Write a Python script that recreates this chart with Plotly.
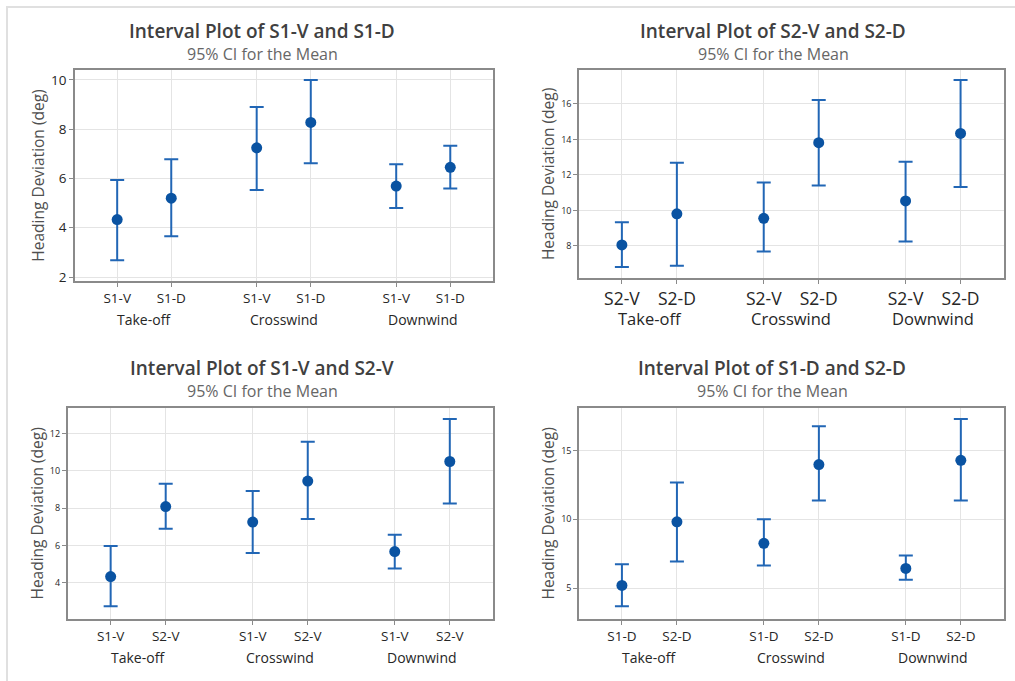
import plotly.graph_objects as go

W, H = 1015, 681

# ---------------- data ----------------
groups = ["Take-off", "Crosswind", "Downwind"]

p1_labels = ["S1-V", "S1-D"]
p1_mean = [4.33, 5.20, 7.24, 8.27, 5.69, 6.45]
p1_upper = [5.94, 6.78, 8.90, 9.99, 6.57, 7.32]
p1_lower = [2.68, 3.65, 5.53, 6.62, 4.80, 5.59]

p2_labels = ["S2-V", "S2-D"]
p2_mean = [8.06, 9.81, 9.56, 13.82, 10.54, 14.34]
p2_upper = [9.34, 12.68, 11.58, 16.22, 12.75, 17.35]
p2_lower = [6.81, 6.88, 7.69, 11.41, 8.25, 11.32]

p3_labels = ["S1-V", "S2-V"]
p3_mean = [4.34, 8.09, 7.26, 9.45, 5.68, 10.50]
p3_upper = [5.98, 9.31, 8.92, 11.56, 6.58, 12.78]
p3_lower = [2.76, 6.90, 5.61, 7.42, 4.78, 8.25]

p4_labels = ["S1-D", "S2-D"]
p4_mean = [5.19, 9.81, 8.25, 13.97, 6.42, 14.28]
p4_upper = [6.73, 12.67, 10.00, 16.76, 7.36, 17.28]
p4_lower = [3.68, 6.92, 6.63, 11.35, 5.60, 11.35]

titles = ["Interval Plot of S1-V and S1-D", "Interval Plot of S2-V and S2-D",
          "Interval Plot of S1-V and S2-V", "Interval Plot of S1-D and S2-D"]
subtitle = "95% CI for the Mean"
ytitle = "Heading Deviation (deg)"

# ---------------- layout geometry (pixels) ----------------
FONT = "Open Sans"
GAP = 2.58
XR = [-0.78, 2 * GAP + 1 + 0.79]

panels = [
    dict(labels=p1_labels, mean=p1_mean, up=p1_upper, lo=p1_lower,
         px=(75, 493), py=(70.7, 283.3), yr=[1.83, 10.39], yt=[2, 4, 6, 8, 10],
         ytf=13.5, xtf=13.5, gtf=14, title_x=262, title_y=31, sub_y=54,
         ytitle_x=38, glab_y=322),
    dict(labels=p2_labels, mean=p2_mean, up=p2_upper, lo=p2_lower,
         px=(579, 1004), py=(70.7, 280), yr=[6.2, 17.9], yt=[8, 10, 12, 14, 16],
         ytf=9, xtf=17.5, gtf=16.5, title_x=773, title_y=31, sub_y=54,
         ytitle_x=548, glab_y=321),
    dict(labels=p3_labels, mean=p3_mean, up=p3_upper, lo=p3_lower,
         px=(67.7, 493.3), py=(410.7, 624), yr=[2.05, 13.38], yt=[4, 6, 8, 10, 12],
         ytf=9, xtf=13.5, gtf=14, title_x=262, title_y=371, sub_y=393.5,
         ytitle_x=37, glab_y=662),
    dict(labels=p4_labels, mean=p4_mean, up=p4_upper, lo=p4_lower,
         px=(579, 1004.3), py=(410.7, 624), yr=[2.72, 18.1], yt=[5, 10, 15],
         ytf=9, xtf=13.5, gtf=14, title_x=772, title_y=371, sub_y=393.5,
         ytitle_x=548, glab_y=662),
]

fig = go.Figure()
annotations = []
MARKER = "#0A53A2"
BAR = "#2166B5"

for i, p in enumerate(panels):
    n = i + 1
    xa = "x" if n == 1 else f"x{n}"
    ya = "y" if n == 1 else f"y{n}"
    xs, ticktext = [], []
    for g in range(len(groups)):
        for j, lab in enumerate(p["labels"]):
            xs.append(g * GAP + j)
            ticktext.append(lab)
    plus = [u - m for u, m in zip(p["up"], p["mean"])]
    minus = [m - l for m, l in zip(p["mean"], p["lo"])]
    fig.add_trace(go.Scatter(
        x=xs, y=p["mean"], mode="markers", xaxis=xa, yaxis=ya,
        marker=dict(color=MARKER, size=11, symbol="circle"),
        error_y=dict(type="data", symmetric=False, array=plus, arrayminus=minus,
                     color=BAR, thickness=2, width=7),
        showlegend=False, hoverinfo="skip"))

    x0, x1 = p["px"][0] / W, p["px"][1] / W
    y0, y1 = 1 - p["py"][1] / H, 1 - p["py"][0] / H
    axcommon = dict(showline=True, linecolor="#8A8A8A", linewidth=1.5, mirror=True,
                    showgrid=True, gridcolor="#E4E4E4", gridwidth=1.2,
                    ticks="outside", ticklen=4, tickcolor="#8A8A8A", zeroline=False)
    fig.update_layout(**{
        ("xaxis" if n == 1 else f"xaxis{n}"): dict(
            domain=[x0, x1], anchor=ya, range=XR, tickvals=xs, ticktext=ticktext,
            tickfont=dict(family=FONT, size=p["xtf"], color="#262626"), **axcommon),
        ("yaxis" if n == 1 else f"yaxis{n}"): dict(
            domain=[y0, y1], anchor=xa, range=p["yr"], tickvals=p["yt"],
            tickfont=dict(family=FONT, size=p["ytf"], color="#262626"), **axcommon),
    })

    # group labels
    for g, gname in enumerate(groups):
        annotations.append(dict(
            x=g * GAP + 0.5, xref=xa, y=1 - p["glab_y"] / H, yref="paper",
            text=gname, showarrow=False, xanchor="center", yanchor="middle",
            font=dict(family=FONT, size=p["gtf"], color="#262626")))
    # title + subtitle
    annotations.append(dict(
        x=p["title_x"] / W, y=1 - p["title_y"] / H, xref="paper", yref="paper",
        text=titles[i], showarrow=False, xanchor="center", yanchor="middle",
        font=dict(family=FONT, size=19, color="#404040", weight=600)))
    annotations.append(dict(
        x=p["title_x"] / W, y=1 - p["sub_y"] / H, xref="paper", yref="paper",
        text=subtitle, showarrow=False, xanchor="center", yanchor="middle",
        font=dict(family=FONT, size=16, color="#666666")))
    # y title
    annotations.append(dict(
        x=p["ytitle_x"] / W, y=(y0 + y1) / 2, xref="paper", yref="paper",
        text=ytitle, textangle=-90, showarrow=False, xanchor="center", yanchor="middle",
        font=dict(family=FONT, size=15.5, color="#505050")))

fig.update_layout(
    width=W, height=H, margin=dict(l=0, r=0, t=0, b=0),
    paper_bgcolor="white", plot_bgcolor="white",
    annotations=annotations,
    shapes=[dict(type="rect", xref="paper", yref="paper",
                 x0=7 / W, x1=1.05, y0=-0.05, y1=1 - 7 / H,
                 line=dict(color="#E0E0E0", width=2), layer="below")],
)

fig.write_html("out.html")
